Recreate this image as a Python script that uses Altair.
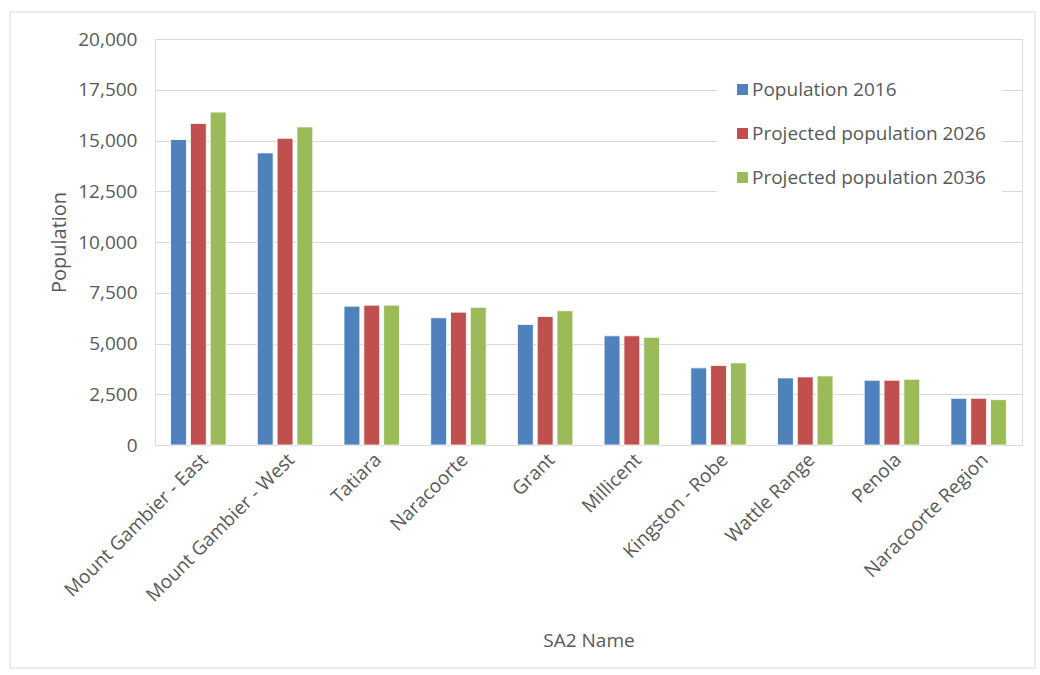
import altair as alt
import pandas as pd

areas = ["Mount Gambier - East", "Mount Gambier - West", "Tatiara", "Naracoorte",
         "Grant", "Millicent", "Kingston - Robe", "Wattle Range", "Penola",
         "Naracoorte Region"]
series = ["Population 2016", "Projected population 2026", "Projected population 2036"]
pop_2016 = [15050, 14390, 6840, 6270, 5940, 5380, 3800, 3305, 3190, 2300]
pop_2026 = [15840, 15110, 6890, 6545, 6330, 5380, 3915, 3355, 3190, 2300]
pop_2036 = [16400, 15670, 6890, 6780, 6615, 5310, 4045, 3405, 3240, 2235]
colors = ["#4F81BD", "#C0504D", "#9BBB59"]

rows = []
for s, vals in zip(series, [pop_2016, pop_2026, pop_2036]):
    for a, v in zip(areas, vals):
        rows.append({"SA2 Name": a, "Series": s, "Population": v})
df = pd.DataFrame(rows)

FONT = "Open Sans"
GREY = "#595959"
LEFT, TOP = 155, 39
W, H = 867, 406

bars = alt.Chart(df).mark_bar(stroke="white", strokeWidth=0.8).encode(
    x=alt.X("SA2 Name:N", sort=areas, title="SA2 Name",
            scale=alt.Scale(paddingInner=0.36, paddingOuter=0.18),
            axis=alt.Axis(labelAngle=-45, labelAlign="right", labelBaseline="top",
                          labelFontSize=19, labelColor=GREY, labelFont=FONT,
                          labelLimit=400,
                          titleFontSize=19, titleColor=GREY, titleFont=FONT,
                          titleFontWeight="normal", titlePadding=26,
                          ticks=False, domainColor="#d9d9d9", labelPadding=5)),
    xOffset=alt.XOffset("Series:N", sort=series,
                        scale=alt.Scale(paddingInner=0.2)),
    y=alt.Y("Population:Q", title="Population",
            scale=alt.Scale(domain=[0, 20000]),
            axis=alt.Axis(values=list(range(0, 20001, 2500)), format=",.0f",
                          labelFontSize=19, labelColor=GREY, labelFont=FONT,
                          titleFontSize=20, titleColor=GREY, titleFont=FONT,
                          titleFontWeight="normal", titlePadding=8,
                          ticks=False, domain=False, labelPadding=18,
                          gridColor="#d9d9d9", gridWidth=1)),
    color=alt.Color("Series:N", sort=series, title=None,
                    scale=alt.Scale(domain=series, range=colors),
                    legend=alt.Legend(orient="none", legendX=562, legendY=25,
                                      symbolType="square", symbolSize=120,
                                      symbolStrokeWidth=0, labelLimit=400,
                                      labelFontSize=19, labelColor=GREY,
                                      labelFont=FONT, rowPadding=24,
                                      fillColor="white", padding=16,
                                      labelOffset=0)),
)

frame = alt.Chart(pd.DataFrame({"a": [0]})).mark_rect(
    fill=None, stroke="#d9d9d9", strokeWidth=1
).encode(
    x=alt.value(10 - LEFT), x2=alt.value(1035 - LEFT),
    y=alt.value(12 - TOP), y2=alt.value(668 - TOP),
)

chart = alt.layer(frame, bars).properties(
    width=W, height=H,
    autosize=alt.AutoSizeParams(type="none"),
    padding={"left": LEFT, "top": TOP, "right": 1040 - LEFT - W, "bottom": 675 - TOP - H},
).configure_view(stroke=None).configure(background="white")

chart.save("out.html", embed_options={"renderer": "svg", "actions": False})
